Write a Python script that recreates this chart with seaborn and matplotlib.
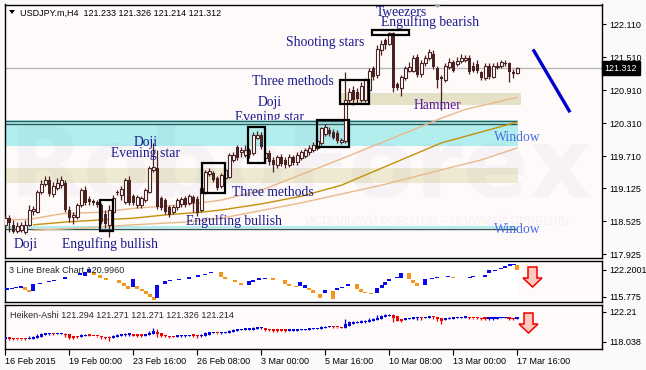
import numpy as np
import pandas as pd
import matplotlib
matplotlib.use("Agg")
import matplotlib.pyplot as plt
import seaborn as sns
from matplotlib.patches import Rectangle, Polygon
from matplotlib.transforms import Affine2D

# ---------------- data ----------------
opens = [118.46, 118.58, 118.46, 118.35, 118.36, 118.33, 118.46, 118.71, 118.69, 119.06,
         119.20, 119.27, 119.02, 119.13, 119.18, 119.22, 118.73, 118.60, 118.60, 118.82,
         119.09, 118.93, 118.89, 118.87, 118.82, 118.66, 118.46, 118.69, 119.06, 119.00,
         118.87, 119.27, 118.98, 118.82, 118.82, 118.91, 119.06, 119.46, 119.49, 118.95,
         118.91, 118.78, 118.69, 118.78, 118.84, 118.95, 118.86, 118.96, 118.93, 118.73,
         119.06, 119.38, 119.40, 119.31, 119.16, 119.31, 119.33, 119.64, 119.87, 119.78,
         119.73, 119.82, 119.76, 120.05, 120.09, 119.67, 119.76, 119.64, 119.55, 119.69,
         119.64, 119.55, 119.69, 119.60, 119.67, 119.71, 119.78, 119.82, 119.86, 119.95,
         120.11, 120.18, 120.15, 120.13, 119.96, 119.98, 120.73, 120.91, 120.87, 120.73,
         120.73, 120.91, 121.31, 121.18, 121.64, 121.82, 121.76, 121.95, 121.02, 120.96,
         121.13, 121.27, 121.27, 121.51, 121.20, 121.40, 121.49, 121.58, 121.31, 121.15,
         121.09, 121.33, 121.42, 121.38, 121.44, 121.46, 121.49, 121.35, 121.38, 121.24,
         121.13, 121.35, 121.16, 121.33, 121.36, 121.40, 121.40, 121.24, 121.233]
highs = [118.64, 118.64, 118.55, 118.51, 118.51, 118.55, 118.82, 118.80, 119.09, 119.27,
         119.35, 119.35, 119.24, 119.31, 119.35, 119.27, 118.80, 118.69, 118.86, 119.13,
         119.16, 118.98, 118.93, 118.91, 118.86, 118.73, 118.82, 119.00, 119.09, 119.16,
         119.31, 119.35, 119.02, 119.00, 118.98, 119.13, 119.53, 119.95, 119.82, 118.98,
         118.95, 118.82, 118.82, 118.95, 118.96, 118.98, 119.02, 119.00, 118.98, 119.18,
         119.46, 119.49, 119.44, 119.35, 119.40, 119.49, 119.76, 119.78, 119.91, 119.87,
         119.91, 119.86, 120.15, 120.16, 120.15, 119.86, 119.82, 119.69, 119.73, 119.75,
         119.69, 119.75, 119.73, 119.78, 119.82, 119.86, 119.91, 119.96, 120.04, 120.25,
         120.29, 120.24, 120.20, 120.18, 120.05, 121.24, 120.95, 120.98, 120.95, 121.06,
         121.13, 121.31, 121.36, 121.73, 121.82, 121.86, 121.98, 121.98, 121.06, 121.18,
         121.36, 121.42, 121.55, 121.58, 121.46, 121.55, 121.66, 121.64, 121.36, 121.18,
         121.40, 121.49, 121.46, 121.51, 121.58, 121.55, 121.55, 121.42, 121.46, 121.27,
         121.40, 121.40, 121.40, 121.42, 121.47, 121.46, 121.42, 121.29, 121.326]
lows = [118.40, 118.33, 118.31, 118.31, 118.33, 118.29, 118.44, 118.64, 118.67, 119.02,
        119.16, 118.98, 118.96, 119.09, 119.13, 118.69, 118.51, 118.47, 118.56, 118.78,
        118.82, 118.82, 118.82, 118.78, 118.47, 118.40, 118.24, 118.66, 119.00, 118.91,
        118.84, 118.82, 118.82, 118.76, 118.76, 118.87, 119.04, 119.42, 118.75, 118.73,
        118.66, 118.60, 118.66, 118.73, 118.78, 118.78, 118.82, 118.69, 118.62, 118.69,
        119.02, 119.35, 119.24, 119.09, 119.13, 119.27, 119.31, 119.60, 119.64, 119.69,
        119.69, 119.67, 119.73, 120.02, 119.84, 119.60, 119.55, 119.42, 119.49, 119.53,
        119.49, 119.51, 119.55, 119.55, 119.64, 119.67, 119.73, 119.78, 119.82, 119.91,
        120.07, 120.07, 120.02, 119.95, 119.93, 119.95, 120.67, 120.64, 120.67, 120.69,
        120.69, 120.86, 121.09, 121.13, 121.55, 121.67, 121.73, 120.87, 120.91, 120.80,
        121.09, 121.24, 121.24, 121.15, 121.16, 121.35, 121.46, 121.29, 120.96, 120.55,
        121.06, 121.29, 121.24, 121.35, 121.40, 121.42, 121.20, 121.24, 121.22, 121.09,
        121.09, 121.11, 121.13, 121.29, 121.31, 121.35, 121.06, 121.13, 121.214]
closes = [118.58, 118.49, 118.33, 118.44, 118.46, 118.46, 118.73, 118.75, 119.06, 119.20,
          119.27, 119.02, 119.16, 119.22, 119.27, 118.73, 118.58, 118.64, 118.82, 119.09,
          118.86, 118.87, 118.86, 118.82, 118.51, 118.47, 118.73, 118.95, 119.04, 119.11,
          119.27, 118.86, 118.86, 118.96, 118.95, 119.09, 119.49, 119.51, 118.78, 118.76,
          118.69, 118.64, 118.78, 118.91, 118.93, 118.82, 118.98, 118.86, 118.67, 119.13,
          119.42, 119.44, 119.27, 119.13, 119.36, 119.46, 119.73, 119.73, 119.67, 119.82,
          119.82, 119.73, 120.09, 120.09, 119.87, 119.76, 119.60, 119.55, 119.69, 119.56,
          119.55, 119.69, 119.58, 119.73, 119.78, 119.82, 119.86, 119.91, 119.98, 120.22,
          120.24, 120.11, 120.05, 119.98, 120.00, 120.73, 120.87, 120.73, 120.76, 120.98,
          121.09, 121.27, 121.15, 121.67, 121.76, 121.73, 121.95, 120.96, 120.96, 121.15,
          121.31, 121.33, 121.49, 121.18, 121.40, 121.49, 121.60, 121.33, 121.09, 121.11,
          121.35, 121.42, 121.27, 121.44, 121.49, 121.49, 121.24, 121.27, 121.26, 121.13,
          121.35, 121.16, 121.35, 121.36, 121.42, 121.38, 121.24, 121.20, 121.312]

# moving averages (values read at bar positions)
ma_fast_bar = [0, 6, 14, 24, 32, 40, 49, 54, 64, 84, 103, 109, 115, 128]
ma_fast_val = [118.55, 118.56, 118.66, 118.69, 118.76, 118.80, 118.86, 118.91, 119.09,
               119.66, 120.22, 120.40, 120.56, 120.78]
ma_mid_bar = [7, 15, 24, 32, 40, 49, 54, 64, 74, 84, 96, 109, 119, 128]
ma_mid_val = [118.46, 118.51, 118.55, 118.58, 118.64, 118.69, 118.73, 118.84, 118.98,
              119.18, 119.55, 119.95, 120.15, 120.33]
ma_slow_bar = [7, 19, 32, 45, 54, 74, 94, 109, 119, 128]
ma_slow_val = [118.36, 118.40, 118.46, 118.51, 118.58, 118.86, 119.18, 119.46, 119.64, 119.86]

# 3 line break blocks: position, top, bottom, direction (1 up / 0 down)
lb_x = [0.5, 1.75, 2.75, 4, 5, 6, 7, 8.75, 11, 12.25, 15, 18.75, 20, 21, 22.25, 23.75, 25.25,
        28.5, 29.75, 30.75, 32, 33, 34.25, 35.25, 36.25, 37.25, 38, 40, 41.25, 43.5, 46, 48.25,
        50, 51.5, 54, 55, 57.5, 59, 61, 62, 63.5, 65, 67, 70, 71, 72.75, 73.75, 75, 76, 77,
        78.75, 80, 82, 83, 84.25, 85.75, 88, 89, 90, 91.5, 93, 94.25, 95, 96, 98, 99, 101,
        102, 103, 105, 106.75, 108, 110.75, 112, 116.25, 117, 120, 121, 122.5, 124, 125,
        126.25, 127.25, 128]
lb_top = [117.80, 118.03, 118.15, 118.39, 118.15, 117.44, 118.87, 119.11, 119.58, 119.82,
          120.53, 121.49, 121.72, 122.44, 121.72, 121.01, 120.30, 119.82, 119.11, 118.39,
          120.06, 118.39, 117.68, 117.20, 116.49, 115.77, 118.63, 119.58, 119.82, 120.06,
          120.53, 121.01, 121.25, 121.72, 121.72, 120.53, 119.82, 119.11, 119.58, 119.82,
          120.30, 120.30, 120.30, 119.82, 118.87, 118.39, 119.34, 118.63, 117.92, 117.44,
          116.49, 117.44, 117.20, 117.92, 118.15, 118.87, 118.87, 117.68, 116.96, 116.73,
          117.92, 118.63, 119.34, 120.06, 120.53, 121.49, 121.49, 119.82, 119.11, 120.06,
          120.30, 120.53, 120.77, 120.53, 120.53, 120.77, 121.01, 122.20, 122.20, 122.68,
          123.15, 123.63, 123.63, 123.39]
lb_bot = [117.44, 117.68, 117.92, 117.92, 117.44, 116.96, 117.20, 118.87, 119.34, 119.58,
          120.06, 121.01, 120.77, 121.72, 121.01, 120.30, 119.82, 119.11, 118.39, 117.68,
          118.15, 117.68, 117.20, 116.49, 115.77, 115.06, 115.54, 118.87, 119.58, 119.82,
          120.06, 120.53, 121.01, 121.49, 120.53, 120.06, 119.34, 118.63, 118.63, 119.34,
          119.82, 120.06, 119.82, 118.87, 118.39, 118.15, 118.39, 117.92, 117.44, 116.73,
          115.54, 116.73, 115.30, 117.44, 117.92, 118.39, 117.68, 116.96, 116.73, 116.49,
          116.73, 117.92, 118.63, 119.58, 120.30, 120.30, 120.06, 119.11, 118.39, 118.63,
          120.06, 120.30, 120.53, 120.30, 120.30, 120.53, 120.53, 121.49, 121.96, 122.44,
          122.68, 123.15, 123.39, 122.20]
lb_dir = [1, 1, 1, 1, 0, 0, 1, 1, 1, 1, 1, 1, 1, 1, 0, 0, 0, 0, 0, 0, 1, 0, 0, 0, 0, 0, 1,
          1, 1, 1, 1, 1, 1, 1, 0, 0, 0, 0, 1, 1, 1, 1, 0, 0, 0, 0, 1, 1, 0, 0, 0, 1, 0, 1, 1,
          1, 0, 0, 0, 0, 1, 1, 1, 1, 1, 1, 0, 0, 0, 1, 1, 1, 1, 0, 1, 1, 1, 1, 1, 1, 1, 1, 1, 0]

time_ticks = [0, 16, 32, 48, 64, 80, 96, 112, 128]
time_labels = ["16 Feb 2015", "19 Feb 00:00", "23 Feb 16:00", "26 Feb 08:00", "3 Mar 00:00",
               "5 Mar 16:00", "10 Mar 08:00", "13 Mar 00:00", "17 Mar 16:00"]
price_ticks = [122.110, 121.510, 120.910, 120.310, 119.710, 119.125, 118.525, 117.925]
last_price = 121.312
trend_x = [132, 141.25]
trend_y = [121.655, 120.51]

# annotations: text, bar position, price
labels = [("Tweezers", 99, 122.33), ("Engulfing bearish", 106.25, 122.15),
          ("Shooting stars", 80, 121.78), ("Three methods", 72, 121.07),
          ("Doji", 66.1, 120.69), ("Doji", 35, 119.95), ("Evening star", 35, 119.75),
          ("Three methods", 67, 119.04), ("Engulfing bullish", 57.25, 118.53),
          ("Doji", 5, 118.11), ("Engulfing bullish", 26.1, 118.11)]
boxes = [(23.75, 27, 118.35, 118.91), (49.25, 55, 119.04, 119.58), (60.75, 65, 119.58, 120.25),
         (78, 86, 119.87, 120.36), (83.75, 91, 120.66, 121.09), (91.75, 101, 121.91, 122.00)]

# ---------------- figure ----------------
sns.set_theme(style="white")
plt.rcParams['font.family'] = ['Liberation Sans', 'DejaVu Sans']
W, H = 646, 370
fig = plt.figure(figsize=(W / 100, H / 100), dpi=100)
fig.patch.set_facecolor('#fcf9f9')
pix = Affine2D().scale(1 / W, -1 / H).translate(0, 1) + fig.transFigure


def rect(x0, y0, x1, y1):
    return [x0 / W, 1 - y1 / H, (x1 - x0) / W, (y1 - y0) / H]


ax = fig.add_axes(rect(4.5, 4.5, 602, 258))
ax2 = fig.add_axes(rect(4.5, 261, 602, 302), sharex=ax)
ax3 = fig.add_axes(rect(4.5, 305, 602, 349), sharex=ax)
for a in (ax, ax2, ax3):
    a.set_facecolor('#fffafa')
    for s in a.spines.values():
        s.set_color('black')
        s.set_linewidth(1)
    a.yaxis.tick_right()
    a.tick_params(axis='y', which='both', right=True, left=False, length=3, width=0.8,
                  pad=2, labelsize=6.5, colors='black')

XL = (-0.25, 149.25)
O = np.array(opens); Hh = np.array(highs); L = np.array(lows); C = np.array(closes)
idx = np.arange(len(C))
dark = '#4b2222'

# bands
ax.add_patch(Rectangle((XL[0], 119.89), 128.25 - XL[0], 0.47, color='#b2eeee', lw=0, zorder=1.6))
ax.hlines([120.345, 120.29], XL[0], 128, color='#2f5a5a', lw=1, zorder=2)
ax.add_patch(Rectangle((XL[0], 119.22), 128.25 - XL[0], 0.27, color='#eeead2', lw=0, zorder=1.4))
ax.add_patch(Rectangle((84, 120.64), 45, 0.22, color='#e5e1c6', lw=0, zorder=1.4))
ax.add_patch(Rectangle((XL[0], 118.40), 128.25 - XL[0], 0.045, color='#b2eeee', lw=0, zorder=1.6))
ax.hlines([118.38], XL[0], 128, color='#2f5a5a', lw=1, zorder=2)
ax.axhline(last_price, color='#b8b8b8', lw=1, zorder=2)

# watermark
ax.text(73.75, 119.45, "RoboForex", fontsize=70, fontweight='bold', color='#50508a',
        alpha=0.045, ha='center', va='center', zorder=2.5, family=['DejaVu Sans'])
ax.text(108, 118.51, "ИСПОЛЬЗУЙ РОБОТОВ – ПОЛУЧАЙ ПРИБЫЛЬ", fontsize=8.5, color='#50508a',
        alpha=0.06, ha='center', va='center', zorder=2.5)

# moving averages with seaborn
ma_df = pd.concat([
    pd.DataFrame({'bar': ma_fast_bar, 'value': ma_fast_val, 'ma': 'fast'}),
    pd.DataFrame({'bar': ma_mid_bar, 'value': ma_mid_val, 'ma': 'mid'}),
    pd.DataFrame({'bar': ma_slow_bar, 'value': ma_slow_val, 'ma': 'slow'})])
sns.lineplot(data=ma_df, x='bar', y='value', hue='ma', estimator=None, legend=False,
             palette={'fast': '#e8b98a', 'mid': '#c4900c', 'slow': '#e8b98a'},
             linewidth=1, ax=ax, zorder=3)
ax.set_xlabel(''); ax.set_ylabel('')

# candles
up = C >= O
body = np.maximum(np.abs(C - O), 0.012)
lo = np.minimum(O, C)
ax.vlines(idx, L, Hh, color=dark, lw=0.9, zorder=4)
ax.bar(idx[up], body[up], bottom=lo[up], width=0.72, facecolor='white', edgecolor=dark,
       linewidth=0.8, zorder=5)
ax.bar(idx[~up], body[~up], bottom=lo[~up], width=0.72, color=dark, linewidth=0, zorder=5)

# boxes
for x0, x1, y0, y1 in boxes:
    ax.add_patch(Rectangle((x0, y0), x1 - x0, y1 - y0, fill=False, ec='black', lw=1.6, zorder=6))

# trend line
ax.plot(trend_x, trend_y, color='#0000cc', lw=2.4, solid_capstyle='butt', zorder=6)

# labels
serif = ['Liberation Serif', 'DejaVu Serif']
for t, x, y in labels:
    ax.text(x, y, t, family=serif, fontsize=9.8, color='#1a1a8e', ha='center', va='center', zorder=7)
ax.text(66, 120.42, "Evening star", family=serif, fontsize=9.8, color='#1a1a8e',
        ha='center', va='center', zorder=1.5)
ax.text(108, 120.63, "Hammer", family=serif, fontsize=9.8, color='#5a189a', ha='center',
        va='center', zorder=7)
for y in (120.05, 118.38):
    ax.text(128, y, "Window", family=serif, fontsize=9.8, color='#4a6ee0', ha='center',
            va='center', zorder=7)

ax.set_ylim(117.855, 122.473)
ax.set_yticks(price_ticks)
ax.set_yticklabels([f"{v:.3f}" for v in price_ticks])
ax.text(1.004, last_price, f"{last_price:.3f}", transform=ax.get_yaxis_transform(), ha='left',
        va='center', fontsize=6.5, color='white', zorder=10, clip_on=False,
        bbox=dict(boxstyle='square,pad=0.3', fc='black', ec='black'))

# 3 line break
ax2.axvspan(XL[0], 128.6, color='white', lw=0, zorder=0)
lbx = np.array(lb_x); lbt = np.array(lb_top); lbb = np.array(lb_bot); lbd = np.array(lb_dir)
lbcol = np.where(lbd == 1, '#0a0aee', '#f5961e')
ax2.bar(lbx, np.maximum(lbt - lbb, 0.26), bottom=lbb, width=1.0, color=lbcol, lw=0, zorder=3)
ax2.set_ylim(114.58, 124.34)
ax2.set_yticks([122.2001, 115.775])
ax2.set_yticklabels(['122.2001', '115.775'])
ax2.text(0.007, 0.78, "3 Line Break Chart 120.9960", transform=ax2.transAxes, fontsize=6.5,
         va='center', zorder=5)

# Heiken-Ashi derived from the candles
ha_c = (O + Hh + L + C) / 4
ha_o = np.empty_like(ha_c)
ha_o[0] = (O[0] + C[0]) / 2
for i in range(1, len(C)):
    ha_o[i] = (ha_o[i - 1] + ha_c[i - 1]) / 2
ha_h = np.maximum.reduce([Hh, ha_o, ha_c])
ha_l = np.minimum.reduce([L, ha_o, ha_c])
hacol = np.where(ha_c >= ha_o, '#0000dd', '#ee0000')
ax3.vlines(idx, ha_l, ha_h, colors=hacol, lw=0.9, zorder=3)
ax3.bar(idx, np.maximum(np.abs(ha_c - ha_o), 0.2), bottom=np.minimum(ha_o, ha_c), width=0.8,
        color=hacol, lw=0, zorder=4)
ax3.set_ylim(117.06, 123.18)
ax3.set_yticks([122.21, 118.038])
ax3.set_yticklabels(['122.21', '118.038'])
ax3.text(0.01, 0.77, "Heiken-Ashi 121.294 121.271 121.271 121.326 121.214",
         transform=ax3.transAxes, fontsize=6.5, va='center', zorder=5)

# x axis
ax.tick_params(axis='x', bottom=False, labelbottom=False)
ax2.tick_params(axis='x', bottom=False, labelbottom=False)
ax3.set_xticks(time_ticks)
ax3.set_xticklabels(time_labels, ha='left')
ax3.tick_params(axis='x', bottom=True, length=4, width=0.8, pad=1.5, labelsize=6.5, colors='black')
ax.set_xlim(*XL)

# arrows & header decorations (pixel coordinates)
for pts in ([(528, 267), (537, 267), (537, 278), (542, 278), (532.5, 287), (523, 278), (528, 278)],
            [(524, 313), (533, 313), (533, 324), (538, 324), (528.5, 333), (519, 324), (524, 324)]):
    fig.add_artist(Polygon(pts, closed=True, fc='#ffc8bc', ec='#ee0000', lw=1.1, transform=pix))
fig.add_artist(Polygon([(9, 10), (15, 10), (12, 14)], closed=True, fc='black', ec='none', transform=pix))
fig.add_artist(Polygon([(434, 4.5), (441, 4.5), (437.5, 8)], closed=True, fc='#a8a8a8', ec='none', transform=pix))
fig.text(20 / W, 1 - 13 / H, "USDJPY.m,H4  121.233 121.326 121.214 121.312", fontsize=6.5,
         va='center', ha='left', color='black')

fig.savefig("out.png", dpi=100, facecolor=fig.get_facecolor())
